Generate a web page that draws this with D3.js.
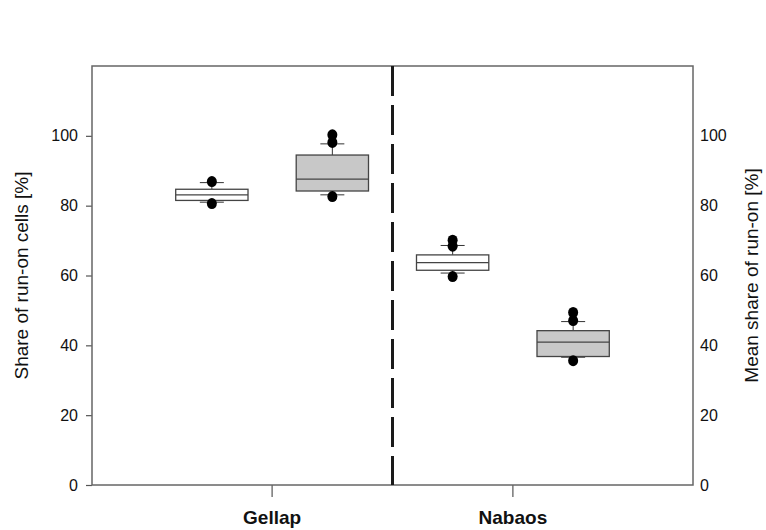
<!DOCTYPE html>
<html lang="en">
<head>
    <meta charset="UTF-8">
    <title>Share of run-on cells</title>
    <script src="https://d3js.org/d3.v7.min.js"></script>
    <style>
        body { margin: 0; background: #fff; }
        text { font-family: "Liberation Sans", Arial, sans-serif; fill: #111; }
    </style>
</head>
<body>
    <div id="chart"></div>

    <script>
        // Data
        const groups = ["Gellap", "Nabaos"];
        const series = ["open", "filled"];

        const boxGroup = ["Gellap", "Gellap", "Nabaos", "Nabaos"];
        const boxSeries = ["open", "filled", "open", "filled"];
        const whiskerLow = [81.0, 83.1, 60.7, 36.6];
        const q1 = [81.5, 84.2, 61.5, 36.8];
        const median = [83.1, 87.6, 63.7, 40.9];
        const q3 = [84.7, 94.5, 65.9, 44.2];
        const whiskerHigh = [86.6, 97.7, 68.6, 46.8];
        const outliers = [
            [80.6, 86.9],
            [82.6, 98.1, 100.3],
            [59.7, 68.4, 70.1],
            [35.6, 47.1, 49.4]
        ];

        const yTicks = [0, 20, 40, 60, 80, 100];

        // Set up dimensions
        const totalWidth = 766, totalHeight = 530;
        const margin = {top: 66, right: 73, bottom: 45, left: 92};
        const width = totalWidth - margin.left - margin.right;
        const height = totalHeight - margin.top - margin.bottom;

        const svg = d3.select("#chart")
            .append("svg")
            .attr("width", totalWidth)
            .attr("height", totalHeight)
            .append("g")
            .attr("transform", `translate(${margin.left},${margin.top})`);

        // Scales
        const x = d3.scaleBand()
            .domain(groups)
            .range([0, width])
            .paddingInner(0)
            .paddingOuter(0.248);

        const xs = d3.scaleBand()
            .domain(series)
            .range([-120.5, 120.5]);

        const y = d3.scaleLinear()
            .domain([0, 120])
            .range([height, 0]);

        const fill = {open: "#ffffff", filled: "#c8c8c8"};
        const boxW = xs.bandwidth() * 0.6;
        const capW = 24;

        // Left axis
        const yAxisLeft = svg.append("g")
            .call(d3.axisLeft(y).tickValues(yTicks).tickSize(6).tickPadding(8));
        yAxisLeft.select(".domain").remove();
        yAxisLeft.selectAll("line").attr("stroke", "#555").attr("stroke-width", 1.2);
        yAxisLeft.selectAll("text").style("font-size", "16px").attr("fill", "#111");

        // Right axis (labels only)
        const yAxisRight = svg.append("g")
            .attr("transform", `translate(${width},0)`)
            .call(d3.axisRight(y).tickValues(yTicks).tickSize(0).tickPadding(7));
        yAxisRight.select(".domain").remove();
        yAxisRight.selectAll("text").style("font-size", "16px").attr("fill", "#111");

        // Bottom axis
        const xAxis = svg.append("g")
            .attr("transform", `translate(0,${height})`)
            .call(d3.axisBottom(x).tickSize(12).tickPadding(14));
        xAxis.select(".domain").remove();
        xAxis.selectAll("line").attr("stroke", "#555").attr("stroke-width", 1.2);
        xAxis.selectAll("text")
            .style("font-size", "19px")
            .style("font-weight", "bold")
            .attr("fill", "#111");

        // Frame
        svg.append("rect")
            .attr("x", 0)
            .attr("y", 0)
            .attr("width", width)
            .attr("height", height)
            .attr("fill", "none")
            .attr("stroke", "#666")
            .attr("stroke-width", 1.5);

        // Dashed divider between groups
        const divX = x(groups[1]);
        svg.append("line")
            .attr("x1", divX)
            .attr("x2", divX)
            .attr("y1", 0)
            .attr("y2", height)
            .attr("stroke", "#1a1a1a")
            .attr("stroke-width", 3)
            .attr("stroke-dasharray", "30,9");

        // Boxes
        const boxes = boxGroup.map((g, i) => ({
            cx: x(g) + x.bandwidth() / 2 + xs(boxSeries[i]) + xs.bandwidth() / 2,
            s: boxSeries[i],
            lo: whiskerLow[i], q1: q1[i], med: median[i], q3: q3[i], hi: whiskerHigh[i],
            out: outliers[i]
        }));

        const box = svg.selectAll(".box")
            .data(boxes)
            .enter().append("g")
            .attr("class", "box");

        // whiskers
        box.append("line")
            .attr("x1", d => d.cx).attr("x2", d => d.cx)
            .attr("y1", d => y(d.hi)).attr("y2", d => y(d.q3))
            .attr("stroke", "#333");
        box.append("line")
            .attr("x1", d => d.cx).attr("x2", d => d.cx)
            .attr("y1", d => y(d.q1)).attr("y2", d => y(d.lo))
            .attr("stroke", "#333");
        box.append("line")
            .attr("x1", d => d.cx - capW / 2).attr("x2", d => d.cx + capW / 2)
            .attr("y1", d => y(d.hi)).attr("y2", d => y(d.hi))
            .attr("stroke", "#333");
        box.append("line")
            .attr("x1", d => d.cx - capW / 2).attr("x2", d => d.cx + capW / 2)
            .attr("y1", d => y(d.lo)).attr("y2", d => y(d.lo))
            .attr("stroke", "#333");

        box.append("rect")
            .attr("x", d => d.cx - boxW / 2)
            .attr("width", boxW)
            .attr("y", d => y(d.q3))
            .attr("height", d => y(d.q1) - y(d.q3))
            .attr("fill", d => fill[d.s])
            .attr("stroke", "#444")
            .attr("stroke-width", 1.3);

        box.append("line")
            .attr("x1", d => d.cx - boxW / 2).attr("x2", d => d.cx + boxW / 2)
            .attr("y1", d => y(d.med)).attr("y2", d => y(d.med))
            .attr("stroke", "#444")
            .attr("stroke-width", 1.2);

        // outliers
        box.selectAll(".dot")
            .data(d => d.out.map(v => ({cx: d.cx, v})))
            .enter().append("ellipse")
            .attr("class", "dot")
            .attr("cx", d => d.cx)
            .attr("cy", d => y(d.v))
            .attr("rx", 5)
            .attr("ry", 5.5)
            .attr("fill", "#000");

        // Axis titles
        svg.append("text")
            .attr("transform", `translate(${-margin.left + 28},${height / 2}) rotate(-90)`)
            .attr("text-anchor", "middle")
            .style("font-size", "19px")
            .text("Share of run-on cells [%]");

        svg.append("text")
            .attr("transform", `translate(${width + 65},${height / 2}) rotate(-90)`)
            .attr("text-anchor", "middle")
            .style("font-size", "19px")
            .text("Mean share of run-on [%]");
    </script>
</body>
</html>
